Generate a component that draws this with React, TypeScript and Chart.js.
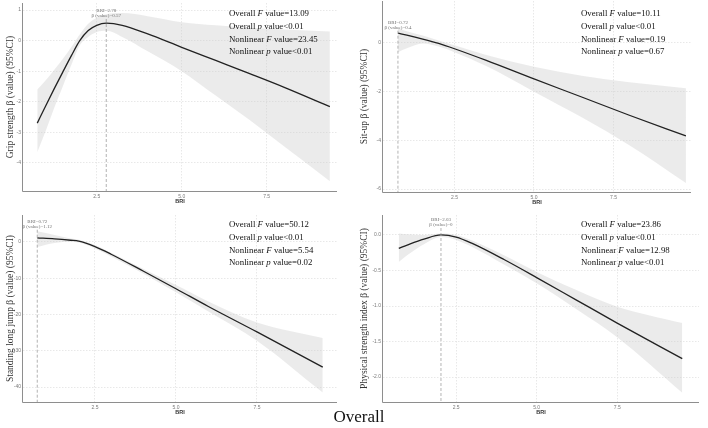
import React, { useEffect, useRef } from "react";
import { Chart, registerables } from "chart.js";

Chart.register(...registerables);

const SERIF = '"Liberation Serif", "Times New Roman", serif';
const SANS = '"Liberation Sans", Arial, sans-serif';

const X_TICKS = [2.5, 5.0, 7.5];

// Grip strength
const GRIP_BRI = [0.75, 1.0, 1.25, 1.5, 1.75, 2.0, 2.25, 2.5, 2.78, 3.25, 4.0, 5.0, 6.0, 7.0, 8.0, 9.36];
const GRIP_FIT = [-2.7, -2.13, -1.57, -1.03, -0.5, 0.0, 0.33, 0.5, 0.57, 0.5, 0.22, -0.22, -0.65, -1.08, -1.52, -2.16];
const GRIP_UPPER = [-1.6, -1.3, -0.95, -0.6, -0.22, 0.2, 0.55, 0.75, 0.86, 0.9, 0.8, 0.6, 0.5, 0.42, 0.36, 0.3];
const GRIP_LOWER = [-3.65, -2.95, -2.2, -1.5, -0.8, -0.15, 0.12, 0.28, 0.32, 0.12, -0.35, -1.0, -1.8, -2.6, -3.45, -4.6];
const GRIP_Y_TICKS = [1, 0, -1, -2, -3, -4];
const GRIP_TURN = [2.78, 0.57];
const GRIP_STATS = ["=13.09", "<0.01", "=23.45", "<0.01"];

// Sit-up
const SITUP_BRI = [0.72, 1.0, 1.5, 2.0, 2.5, 3.5, 5.0, 6.5, 8.0, 9.78];
const SITUP_FIT = [0.4, 0.32, 0.16, -0.02, -0.24, -0.72, -1.48, -2.22, -2.97, -3.82];
const SITUP_UPPER = [0.6, 0.48, 0.3, 0.1, -0.1, -0.5, -0.98, -1.35, -1.62, -1.86];
const SITUP_LOWER = [-0.38, -0.22, -0.02, -0.15, -0.38, -0.95, -2.0, -3.05, -4.2, -5.75];
const SITUP_Y_TICKS = [0, -2, -4, -6];
const SITUP_TURN = [0.72, 0.4];
const SITUP_STATS = ["=10.11", "<0.01", "=0.19", "=0.67"];

// Standing long jump
const SLJ_BRI = [0.72, 1.25, 1.75, 2.0, 2.5, 3.0, 4.0, 5.0, 6.0, 7.5, 9.53];
const SLJ_FIT = [1.12, 0.85, 0.45, 0.2, -1.3, -3.4, -8.1, -12.9, -17.8, -24.8, -34.5];
const SLJ_UPPER = [2.9, 1.9, 0.9, 0.55, -0.85, -3.0, -7.5, -11.9, -16.4, -22.2, -26.5];
const SLJ_LOWER = [-1.4, -0.3, 0.0, -0.2, -1.8, -4.0, -8.8, -13.9, -19.2, -27.2, -41.5];
const SLJ_Y_TICKS = [0, -10, -20, -30, -40];
const SLJ_TURN = [0.72, 1.12];
const SLJ_STATS = ["=50.12", "<0.01", "=5.54", "=0.02"];

// Physical strength index
const PSI_BRI = [0.72, 1.0, 1.5, 2.03, 2.5, 3.0, 4.0, 5.0, 6.25, 7.5, 9.52];
const PSI_FIT = [-0.19, -0.14, -0.06, 0.0, -0.03, -0.12, -0.35, -0.6, -0.92, -1.24, -1.74];
const PSI_UPPER = [0.02, 0.01, 0.0, 0.02, 0.0, -0.08, -0.29, -0.52, -0.78, -1.01, -1.24];
const PSI_LOWER = [-0.38, -0.28, -0.13, -0.03, -0.07, -0.17, -0.42, -0.68, -1.05, -1.44, -2.22];
const PSI_Y_TICKS = [0, -0.5, -1.0, -1.5, -2.0];
const PSI_TURN = [2.03, 0];
const PSI_STATS = ["=23.86", "<0.01", "=12.98", "<0.01"];

type Area = { left: number; top: number; right: number; bottom: number };

type Panel = {
  box: { left: number; top: number; width: number; height: number };
  area: Area;
  xRange: [number, number];
  yRange: [number, number];
  yTicks: number[];
  yDecimals: number;
  title: string;
  bri: number[];
  fit: number[];
  upper: number[];
  lower: number[];
  turn: number[];
  stats: string[];
  statsPos: [number, number];
  annotY: number;
};

const PANELS: Panel[] = [
  {
    box: { left: 0, top: 0, width: 354, height: 214 },
    area: { left: 23, top: 3, right: 337, bottom: 191 },
    xRange: [0.33, 9.57],
    yRange: [-4.92, 1.23],
    yTicks: GRIP_Y_TICKS,
    yDecimals: 0,
    title: "Grip strength β (value) (95%CI)",
    bri: GRIP_BRI,
    fit: GRIP_FIT,
    upper: GRIP_UPPER,
    lower: GRIP_LOWER,
    turn: GRIP_TURN,
    stats: GRIP_STATS,
    statsPos: [229, 14],
    annotY: 11,
  },
  {
    box: { left: 354, top: 0, width: 354, height: 214 },
    area: { left: 29, top: 1, right: 337, bottom: 192 },
    xRange: [0.25, 9.94],
    yRange: [-6.12, 1.72],
    yTicks: SITUP_Y_TICKS,
    yDecimals: 0,
    title: "Sit-up β (value) (95%CI)",
    bri: SITUP_BRI,
    fit: SITUP_FIT,
    upper: SITUP_UPPER,
    lower: SITUP_LOWER,
    turn: SITUP_TURN,
    stats: SITUP_STATS,
    statsPos: [227, 14],
    annotY: 22.7,
  },
  {
    box: { left: 0, top: 214, width: 354, height: 214 },
    area: { left: 23, top: 1, right: 337, bottom: 188 },
    xRange: [0.28, 9.97],
    yRange: [-44.1, 7.4],
    yTicks: SLJ_Y_TICKS,
    yDecimals: 0,
    title: "Standing long jump β (value) (95%CI)",
    bri: SLJ_BRI,
    fit: SLJ_FIT,
    upper: SLJ_UPPER,
    lower: SLJ_LOWER,
    turn: SLJ_TURN,
    stats: SLJ_STATS,
    statsPos: [229, 11],
    annotY: 7.7,
  },
  {
    box: { left: 354, top: 214, width: 354, height: 214 },
    area: { left: 29, top: 1, right: 345, bottom: 188 },
    xRange: [0.23, 10.04],
    yRange: [-2.35, 0.28],
    yTicks: PSI_Y_TICKS,
    yDecimals: 1,
    title: "Physical strength index β (value) (95%CI)",
    bri: PSI_BRI,
    fit: PSI_FIT,
    upper: PSI_UPPER,
    lower: PSI_LOWER,
    turn: PSI_TURN,
    stats: PSI_STATS,
    statsPos: [227, 11],
    annotY: 6,
  },
];

type Part = [string, boolean];

function drawRich(ctx: CanvasRenderingContext2D, x: number, y: number, parts: Part[], size: number) {
  let cx = x;
  for (const [text, italic] of parts) {
    ctx.font = `${italic ? "italic " : ""}${size}px ${SERIF}`;
    ctx.fillText(text, cx, y);
    cx += ctx.measureText(text).width;
  }
}

function makeDecor(p: Panel) {
  return {
    id: "panelDecor",
    afterDraw(chart: any) {
      const ctx: CanvasRenderingContext2D = chart.ctx;
      const a = chart.chartArea;
      const xs = chart.scales.x;
      ctx.save();

      // axis lines (left and bottom)
      ctx.strokeStyle = "#8e8e8e";
      ctx.lineWidth = 1;
      ctx.beginPath();
      ctx.moveTo(a.left - 0.5, a.top);
      ctx.lineTo(a.left - 0.5, a.bottom + 0.5);
      ctx.lineTo(a.right, a.bottom + 0.5);
      ctx.stroke();

      // turning point: dashed guide and label
      const tx = xs.getPixelForValue(p.turn[0]);
      ctx.setLineDash([3, 2]);
      ctx.strokeStyle = "#a0a0a0";
      ctx.lineWidth = 0.8;
      ctx.beginPath();
      ctx.moveTo(tx, p.annotY + 8);
      ctx.lineTo(tx, a.bottom);
      ctx.stroke();
      ctx.setLineDash([]);

      ctx.fillStyle = "#707070";
      ctx.font = `5px ${SERIF}`;
      ctx.textAlign = "center";
      ctx.textBaseline = "middle";
      ctx.fillText(`BRI=${p.turn[0]}`, tx, p.annotY);
      ctx.fillText(`β (value)=${p.turn[1]}`, tx, p.annotY + 4.8);

      // y-axis title
      ctx.save();
      ctx.translate(10.5, (a.top + a.bottom) / 2);
      ctx.rotate(-Math.PI / 2);
      ctx.fillStyle = "#333333";
      ctx.font = `9.5px ${SERIF}`;
      ctx.fillText(p.title, 0, 0);
      ctx.restore();

      // x-axis title
      ctx.fillStyle = "#333333";
      ctx.font = `bold 5.5px ${SANS}`;
      ctx.fillText("BRI", (a.left + a.right) / 2, a.bottom + 10);

      // model statistics
      ctx.fillStyle = "#111111";
      ctx.textAlign = "left";
      const [sx, sy] = p.statsPos;
      const lines: Part[][] = [
        [["Overall ", false], ["F", true], [" value" + p.stats[0], false]],
        [["Overall ", false], ["p", true], [" value" + p.stats[1], false]],
        [["Nonlinear ", false], ["F", true], [" value" + p.stats[2], false]],
        [["Nonlinear ", false], ["p", true], [" value" + p.stats[3], false]],
      ];
      lines.forEach((parts, i) => drawRich(ctx, sx, sy + i * 12.7, parts, 8.8));

      ctx.restore();
    },
  };
}

function PanelChart({ p }: { p: Panel }) {
  const ref = useRef<HTMLCanvasElement | null>(null);

  useEffect(() => {
    if (!ref.current) return;
    const pts = (ys: number[]) => p.bri.map((x, i) => ({ x, y: ys[i] }));
    // Chart.js paints the first dataset last, so the fitted curve goes first
    // and sits on top of the confidence band.
    const chart = new Chart(ref.current, {
      type: "line",
      data: {
        datasets: [
          {
            data: pts(p.fit),
            borderColor: "#222222",
            borderWidth: 1.3,
            pointRadius: 0,
            fill: false,
            cubicInterpolationMode: "monotone",
          },
          {
            data: pts(p.lower),
            borderWidth: 0,
            borderColor: "rgba(0,0,0,0)",
            pointRadius: 0,
            fill: false,
            cubicInterpolationMode: "monotone",
          },
          {
            data: pts(p.upper),
            borderWidth: 0,
            borderColor: "rgba(0,0,0,0)",
            backgroundColor: "rgba(205,205,205,0.4)",
            pointRadius: 0,
            fill: "-1",
            cubicInterpolationMode: "monotone",
          },
        ],
      },
      options: {
        responsive: false,
        animation: false,
        events: [],
        layout: {
          padding: {
            left: 0,
            top: p.area.top,
            right: p.box.width - p.area.right,
            bottom: 0,
          },
        },
        plugins: {
          legend: { display: false },
          tooltip: { enabled: false },
        },
        scales: {
          x: {
            type: "linear",
            min: p.xRange[0],
            max: p.xRange[1],
            afterBuildTicks: (scale: any) => {
              scale.ticks = X_TICKS.map((v) => ({ value: v }));
            },
            afterFit: (scale: any) => {
              scale.height = p.box.height - p.area.bottom;
              scale.paddingLeft = 0;
              scale.paddingRight = 0;
            },
            ticks: {
              callback: (v: any) => Number(v).toFixed(1),
              font: { size: 5, family: SANS },
              color: "#7a7a7a",
              padding: 3,
              maxRotation: 0,
              autoSkip: false,
            },
            grid: { color: "#e2e2e2", lineWidth: 0.8, drawTicks: false },
            border: { display: false, dash: [1.5, 1.5] },
          },
          y: {
            type: "linear",
            min: p.yRange[0],
            max: p.yRange[1],
            afterBuildTicks: (scale: any) => {
              scale.ticks = p.yTicks.map((v) => ({ value: v }));
            },
            afterFit: (scale: any) => {
              scale.width = p.area.left;
              scale.paddingTop = 0;
              scale.paddingBottom = 0;
            },
            ticks: {
              callback: (v: any) => Number(v).toFixed(p.yDecimals),
              font: { size: 5, family: SANS },
              color: "#7a7a7a",
              padding: 2,
              autoSkip: false,
            },
            grid: { color: "#e2e2e2", lineWidth: 0.8, drawTicks: false },
            border: { display: false, dash: [1.5, 1.5] },
          },
        },
      },
      plugins: [makeDecor(p)],
    } as any);
    return () => chart.destroy();
  }, [p]);

  return (
    <canvas
      ref={ref}
      width={p.box.width}
      height={p.box.height}
      style={{
        position: "absolute",
        left: p.box.left,
        top: p.box.top,
        width: p.box.width,
        height: p.box.height,
      }}
    />
  );
}

export default function App() {
  return (
    <div
      style={{
        position: "absolute",
        left: 0,
        top: 0,
        width: 708,
        height: 428,
        background: "#ffffff",
        overflow: "hidden",
      }}
    >
      {PANELS.map((p, i) => (
        <PanelChart key={i} p={p} />
      ))}
      <div
        style={{
          position: "absolute",
          left: 259,
          top: 408,
          width: 200,
          textAlign: "center",
          fontFamily: SERIF,
          fontSize: 17,
          lineHeight: "17px",
          color: "#111111",
        }}
      >
        Overall
      </div>
    </div>
  );
}
